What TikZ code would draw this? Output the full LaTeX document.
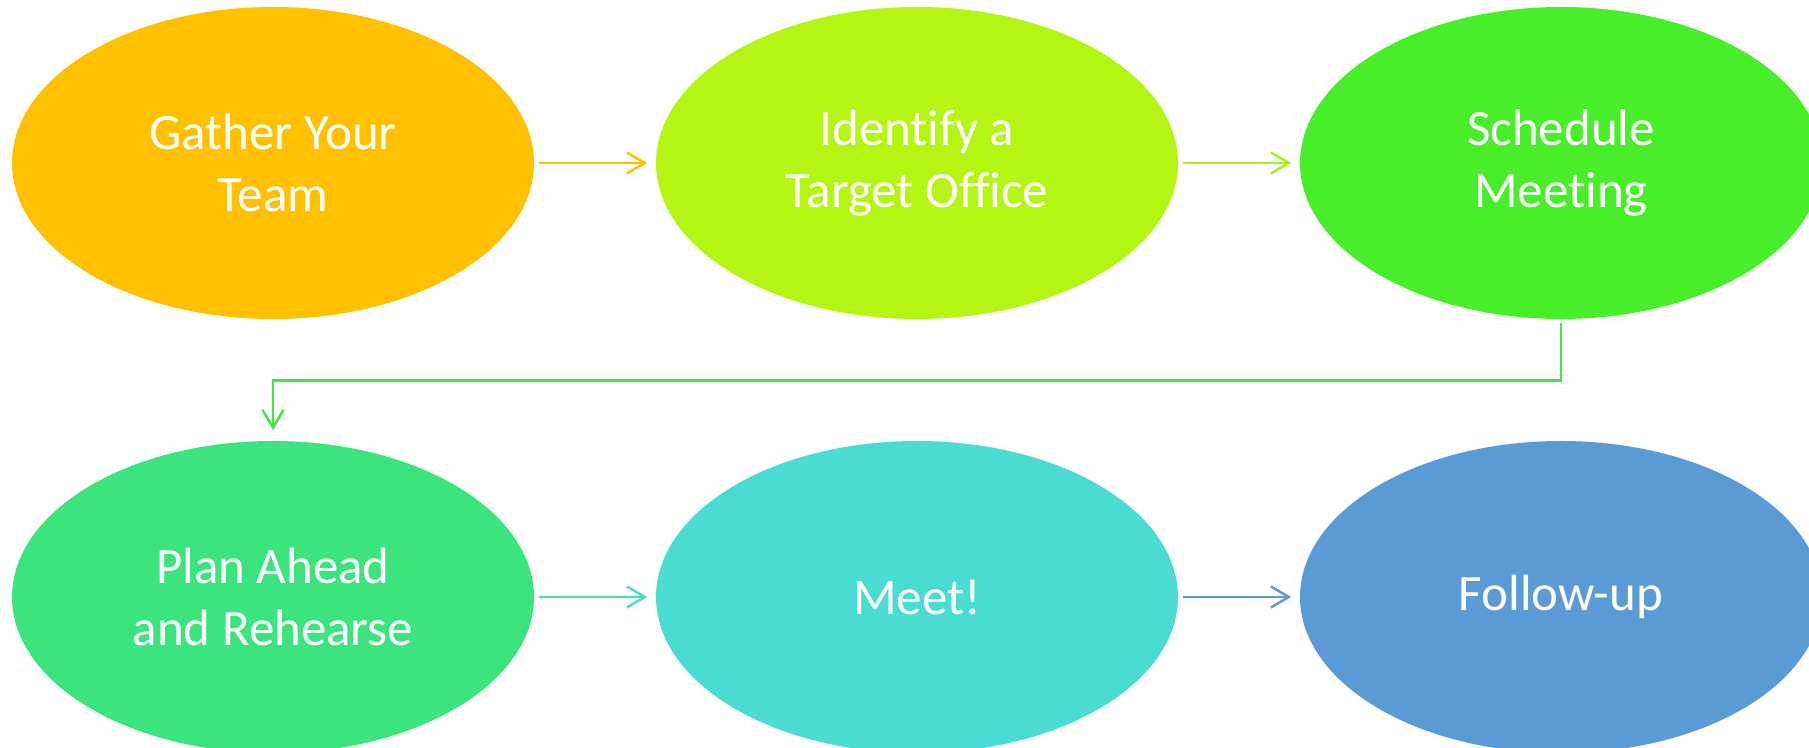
\documentclass[tikz,border=0pt]{standalone}
\usepackage{fontspec}
\setmainfont{Carlito}[Ligatures={NoCommon,NoContextual}]
\usepackage{xcolor}
\usetikzlibrary{arrows.meta,positioning,calc,shapes}

\definecolor{cGather}{HTML}{FFC000}
\definecolor{cTarget}{HTML}{B4F514}
\definecolor{cSched}{HTML}{49EE2B}
\definecolor{cPlan}{HTML}{3CE47E}
\definecolor{cMeet}{HTML}{4ADBD2}
\definecolor{cFollow}{HTML}{5B9BD5}
\definecolor{aTarget}{HTML}{A6F01C}
\definecolor{aSched}{HTML}{3EE84A}
\definecolor{aPlan}{HTML}{46DDC0}

\begin{document}
\begin{tikzpicture}[x=0.1mm,y=-0.1mm,>={Straight Barb[length=1.8mm,width=2.1mm]},
stepnode/.style={ellipse,inner sep=0pt,minimum width=52.2mm,minimum height=31.2mm,
  text=white,align=center,font=\fontsize{14.5}{17.5}\selectfont},
link/.style={->,line width=0.7pt,shorten <=0.4mm,shorten >=0.8mm}]
\useasboundingbox (0,0) rectangle (1809,748);
\clip (0,0) rectangle (1809,748);
\node[stepnode,fill=cGather] (gather) at (273,163) {Gather Your\\Team};
\node[stepnode,fill=cTarget] (target) at (917,163) {Identify a\\Target Office};
\node[stepnode,fill=cSched] (sched) at (1561,163) {Schedule\\Meeting};
\node[stepnode,fill=cPlan] (plan) at (273,597) {Plan Ahead\\and Rehearse};
\node[stepnode,fill=cMeet] (meet) at (917,597) {Meet!};
\node[stepnode,fill=cFollow] (follow) at (1561,597) {Follow-up};
\foreach \u/\v/\c in {gather/target/cGather,target/sched/aTarget,
  plan/meet/aPlan,meet/follow/cFollow}
  \draw[link,\c] (\u) -- (\v);
% wrap to the second row
\draw[link,aSched,shorten <=0.3mm,shorten >=1mm] (sched.south) -- ++(0,61) -| (plan.north);
\end{tikzpicture}
\end{document}
